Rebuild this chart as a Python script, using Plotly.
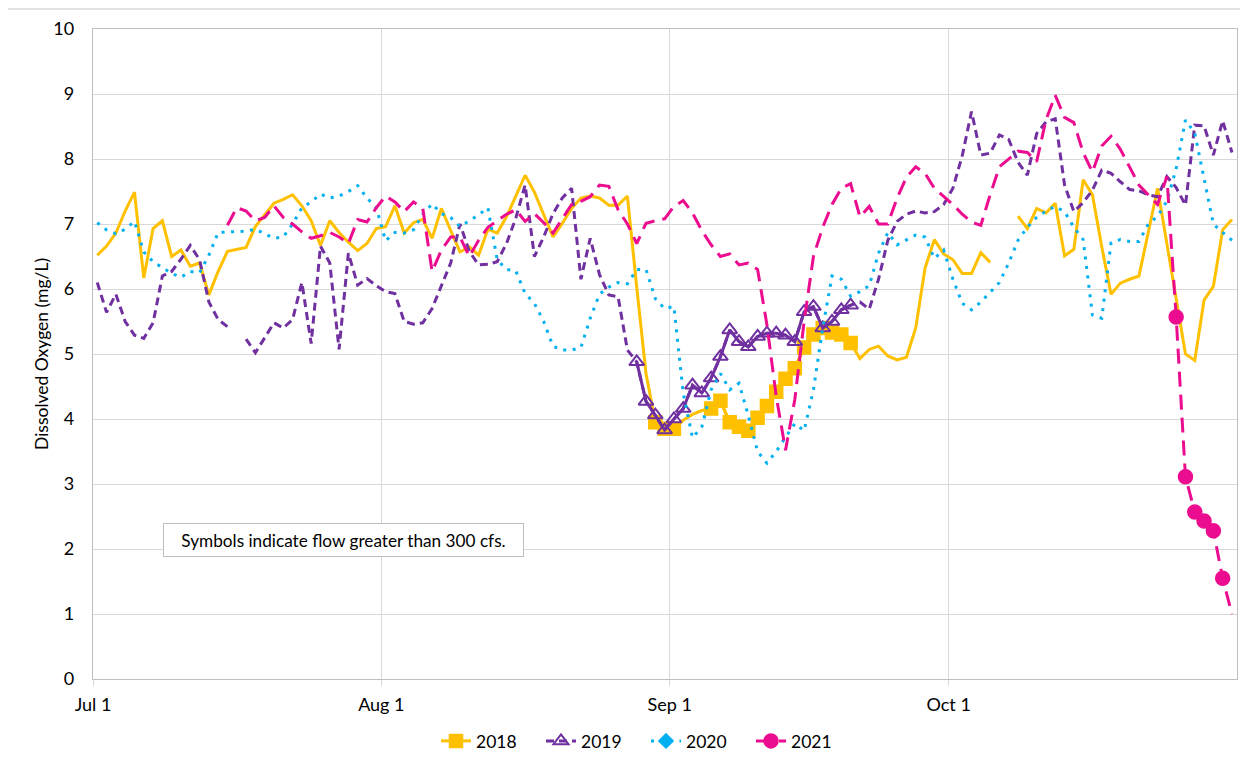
import pandas as pd
import plotly.graph_objects as go

# ---------------- data ----------------
START = "2021-07-01 11:00"          # daily values, Jul 1 .. Oct 31
N_DAYS = 123
days = pd.date_range(START, periods=N_DAYS, freq="D")

tick_dates = ["2021-07-01", "2021-08-01", "2021-09-01", "2021-10-01"]
tick_labels = ["Jul 1", "Aug 1", "Sep 1", "Oct 1"]

do_2018 = [6.52, 6.66, 6.86, 7.2, 7.49, 6.17, 6.93, 7.05, 6.5, 6.6, 6.35, 6.4, 5.91, 6.27, 6.58, 6.61,
           6.64, 6.96, 7.14, 7.32, 7.38, 7.45, 7.28, 7.05, 6.67, 7.05, 6.87, 6.72, 6.59, 6.7, 6.93, 6.96,
           7.28, 6.86, 7.02, 7.07, 6.78, 7.24, 6.9, 6.57, 6.65, 6.52, 6.92, 6.86, 7.11, 7.42, 7.75, 7.49,
           7.14, 6.8, 7.01, 7.24, 7.4, 7.43, 7.4, 7.29, 7.29, 7.43, 6.03, 4.7, 3.95, 3.85, 3.85, 3.98,
           4.07, 4.13, 4.16, 4.28, 3.95, 3.88, 3.82, 4.02, 4.2, 4.42, 4.62, 4.78, 5.1, 5.3, 5.4, 5.33,
           5.3, 5.17, 4.93, 5.07, 5.12, 4.97, 4.91, 4.95, 5.4, 6.32, 6.76, 6.54, 6.45, 6.24, 6.24, 6.56,
           6.41, None, None, 7.12, 6.93, 7.24, 7.17, 7.32, 6.51, 6.61, 7.68, 7.45, 6.65, 5.92, 6.09, 6.15,
           6.2, 6.87, 7.55, 6.7, 5.85, 5.0, 4.9, 5.83, 6.04, 6.91, 7.07]

do_2019 = [6.1, 5.64, 5.92, 5.5, 5.29, 5.24, 5.48, 6.2, 6.27, 6.46, 6.67, 6.45, 5.8, 5.53, 5.42, None,
           5.23, 5.02, 5.25, 5.48, 5.4, 5.53, 6.1, 5.16, 6.66, 6.4, 5.07, 6.55, 6.06, 6.16, 6.05, 5.96,
           5.93, 5.5, 5.46, 5.48, 5.7, 6.04, 6.4, 7.0, 6.58, 6.37, 6.38, 6.42, 6.7, 7.09, 7.6, 6.5,
           6.8, 7.16, 7.4, 7.55, 6.15, 6.78, 6.22, 5.91, 5.88, 5.06, 4.88, 4.27, 4.06, 3.83, 4.0, 4.16,
           4.52, 4.4, 4.63, 4.96, 5.37, 5.19, 5.11, 5.27, 5.32, 5.32, 5.29, 5.19, 5.65, 5.73, 5.4, 5.5,
           5.68, 5.75, 5.8, 5.69, 6.15, 6.75, 7.04, 7.15, 7.2, 7.17, 7.19, 7.3, 7.55, 8.05, 8.73, 8.06,
           8.09, 8.37, 8.3, 7.95, 7.75, 8.39, 8.57, 8.62, 7.6, 7.19, 7.33, 7.52, 7.83, 7.78, 7.65, 7.53,
           7.51, 7.45, 7.42, 7.73, 7.56, 7.29, 8.52, 8.51, 8.06, 8.59, 8.1]

do_2020 = [7.02, 6.91, 6.85, 6.92, 7.04, 6.57, 6.42, 6.33, 6.24, 6.18, 6.27, 6.25, 6.52, 6.87, 6.88, 6.89,
           6.89, 6.92, 6.85, 6.78, 6.8, 7.0, 7.25, 7.34, 7.46, 7.4, 7.43, 7.5, 7.59, 7.4, 7.25, 6.74,
           6.87, 6.86, 6.91, 7.15, 7.31, 7.16, 7.1, 6.96, 7.05, 7.14, 7.25, 6.45, 6.3, 6.28, 5.93, 5.78,
           5.5, 5.12, 5.06, 5.06, 5.1, 5.55, 5.92, 6.03, 6.1, 6.08, 6.3, 6.3, 5.85, 5.7, 5.73, 4.4,
           3.71, 3.88, 4.45, 4.7, 4.45, 4.55, 4.05, 3.5, 3.32, 3.5, 3.72, 3.93, 3.82, 4.45, 5.4, 6.2,
           6.15, 5.89, 5.96, 6.05, 6.55, 6.87, 6.68, 6.75, 6.83, 6.8, 6.47, 6.6, 6.15, 5.78, 5.68, 5.8,
           5.95, 6.1, 6.4, 6.75, 6.95, 7.1, 7.2, 7.27, 7.19, 6.95, 6.76, 5.6, 5.55, 6.71, 6.76, 6.73,
           6.73, 7.0, 7.12, 7.35, 7.85, 8.6, 8.4, 7.7, 7.0, 6.87, 6.75]

do_2021 = [None] * 14 + [
           6.98, 7.25, 7.2, 7.05, 7.1, 7.28, 7.1, 7.0, 6.88, 6.78, 6.82, 6.87, 6.8, 6.7, 7.07, 7.03,
           7.25, 7.43, 7.34, 7.19, 7.34, 7.24, 6.27, 6.6, 6.8, 6.8, 6.5, 6.75, 6.95, 7.05, 7.15, 7.22,
           7.04, 7.16, 7.02, 6.86, 7.08, 7.3, 7.35, 7.42, 7.6, 7.58, 7.22, 7.0, 6.7, 7.01, 7.05, 7.08,
           7.27, 7.36, 7.17, 6.9, 6.68, 6.5, 6.54, 6.37, 6.4, 6.3, 5.45, 4.35, 3.52, 4.3, 5.5, 6.5,
           6.95, 7.3, 7.55, 7.62, 7.11, 7.27, 7.0, 7.0, 7.4, 7.72, 7.88, 7.78, 7.55, 7.42, 7.3, 7.15,
           7.03, 6.98, 7.45, 7.88, 8.0, 8.12, 8.1, 7.96, 8.6, 8.98, 8.64, 8.56, 8.1, 7.8, 8.2, 8.35,
           8.15, 7.88, 7.6, 7.45, 7.3, 7.73, 5.57, 3.11, 2.57, 2.43, 2.28, 1.55, 1.0]

# day indices (0 = Jul 1) on which flow was greater than 300 cfs
flow_2018 = [60, 61, 62, 66, 67, 68, 69, 70, 71, 72, 73, 74, 75, 76, 77, 78, 79, 80, 81]
flow_2019 = [58, 59, 60, 61, 62, 63, 64, 65, 66, 67, 68, 69, 70, 71, 72, 73, 74, 75, 76, 77, 78,
             79, 80, 81]
flow_2020 = []
flow_2021 = [116, 117, 118, 119, 120, 121]

years = ["2018", "2019", "2020", "2021"]
series = [do_2018, do_2019, do_2020, do_2021]
flows = [flow_2018, flow_2019, flow_2020, flow_2021]

# ---------------- styles ----------------
colors = ["#FFC000", "#7030A0", "#00B0F0", "#EC0C8F"]
LW = 3
dashes = ["solid", "8px,5px", "3px,6.5px", "15px,8px"]
symbols = ["square", "triangle-up-open", "diamond", "circle"]
msizes = [13, 13, 11, 14]
mlw = [1.5, 2, 1.5, 1.5]
seg_dash = ["solid", "solid", "3px,6.5px", None]

FONT = "Lato, 'Open Sans', sans-serif"

fig = go.Figure()

for yr, vals, fl, col, dsh, sym, ms, mw, sd in zip(years, series, flows, colors, dashes,
                                                 symbols, msizes, mlw, seg_dash):
    fig.add_trace(go.Scatter(
        x=days, y=vals, mode="lines", name=yr, showlegend=False,
        line=dict(color=col, width=LW, dash=dsh), connectgaps=False,
        hoverinfo="skip"))
    if fl:
        flagged = [v if i in fl else None for i, v in enumerate(vals)]
        if sd is None:
            fig.add_trace(go.Scatter(
                x=days, y=flagged, mode="markers", showlegend=False,
                marker=dict(symbol=sym, size=ms, color=col,
                            line=dict(color=col, width=mw))))
        else:
            fig.add_trace(go.Scatter(
                x=days, y=flagged, mode="lines+markers", showlegend=False,
                line=dict(color=col, width=LW, dash=sd), connectgaps=False,
                marker=dict(symbol=sym, size=ms, color=col,
                            line=dict(color=col, width=mw))))

# legend-only entries
for yr, col, dsh, sym, ms, mw in zip(years, colors, dashes, symbols, msizes, mlw):
    fig.add_trace(go.Scatter(
        x=[None], y=[None], mode="lines+markers", name=yr,
        line=dict(color=col, width=LW, dash=dsh),
        marker=dict(symbol=sym, size=ms, color=col, line=dict(color=col, width=mw))))

# page body has an 8px margin: figure pixel = screen pixel - OFF
OFF = 8
W, H = 1240, 752
L, T = 93 - OFF, 29 - OFF
PR, PB = 1237 - OFF, 679 - OFF
R, B = W - PR, H - PB
pw, ph = PR - L, PB - T


def px_x(sx):
    return (sx - OFF - L) / pw


def px_y(sy):
    return (PB - (sy - OFF)) / ph


fig.update_layout(
    width=W, height=H,
    margin=dict(l=L, r=R, t=T, b=B, autoexpand=False),
    paper_bgcolor="white", plot_bgcolor="white",
    font=dict(family=FONT, size=18, color="#000000"),
    showlegend=True,
    legend=dict(orientation="h", x=px_x(646), xanchor="center",
                y=px_y(741), yanchor="middle", font=dict(size=17.5),
                entrywidth=60, entrywidthmode="pixels", traceorder="normal",
                bgcolor="rgba(0,0,0,0)"),
    xaxis=dict(type="date", range=["2021-07-01", "2021-11-01"], automargin=False,
               tickvals=tick_dates, ticktext=tick_labels,
               showgrid=True, gridcolor="#D9D9D9", gridwidth=1,
               showline=True, mirror=True, linecolor="#BFBFBF", linewidth=1.3,
               ticks="outside", ticklen=6, tickcolor="#D9D9D9",
               tickfont=dict(size=18), ticklabelstandoff=3, zeroline=False),
    yaxis=dict(range=[0, 10], dtick=1, tick0=0, automargin=False,
               showgrid=True, gridcolor="#D9D9D9", gridwidth=1,
               showline=True, mirror=True, linecolor="#BFBFBF", linewidth=1.3,
               ticks="", tickfont=dict(size=18), ticklabelstandoff=14,
               zeroline=False),
    annotations=[
        dict(text="Dissolved Oxygen (mg/L)", xref="paper", yref="paper",
             x=px_x(41), y=0.5, textangle=-90, showarrow=False,
             font=dict(size=17.5), xanchor="center", yanchor="middle"),
        dict(text="Symbols indicate flow greater than 300 cfs.", xref="paper", yref="paper",
             x=px_x(163), y=px_y(539.5), xanchor="left", yanchor="middle",
             showarrow=False, align="center", width=353, height=26,
             bordercolor="#BFBFBF", borderwidth=1, borderpad=3, bgcolor="white",
             font=dict(size=17.2)),
    ],
    shapes=[
        dict(type="line", xref="paper", yref="paper",
             x0=px_x(0), x1=px_x(1248), y0=px_y(9), y1=px_y(9),
             line=dict(color="#D9D9D9", width=1.5)),
    ],
)

fig.write_html("out.html")
